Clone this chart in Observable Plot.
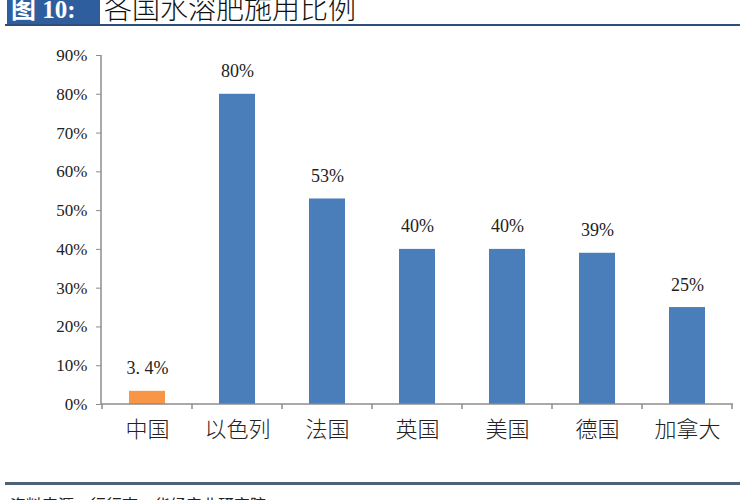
<!DOCTYPE html>
<html>
<head>
<meta charset="utf-8">
<script src="https://cdn.jsdelivr.net/npm/d3@7"></script>
<script src="https://cdn.jsdelivr.net/npm/@observablehq/plot@0.6"></script>
<style>
  html, body { margin: 0; padding: 0; background: #fff; }
  #wrap { position: relative; width: 750px; height: 500px; overflow: hidden; font-family: "Liberation Serif", "Noto Sans CJK SC", serif; }
  #tag { position: absolute; left: 7px; top: -5px; width: 93px; height: 30px; background: #2e5e9e; color: #fff; font-weight: bold; font-size: 25px; line-height: 30px; padding-left: 4px; box-sizing: border-box; font-family: "Liberation Serif", "Noto Sans CJK SC", serif; }
  #title { position: absolute; left: 104px; top: -8px; font-size: 28px; line-height: 30px; color: #111; font-family: "Noto Sans CJK SC", serif; font-weight: 300; }
  #topline { position: absolute; left: 5px; top: 24px; width: 735px; height: 2px; background: #2e4f7c; }
  #botline { position: absolute; left: 5px; top: 482px; width: 735px; height: 3px; background: #4e6176; }
  #source { position: absolute; left: 10px; top: 492px; font-size: 16px; color: #222; font-family: "Noto Sans CJK SC", sans-serif; }
  #chart { position: absolute; left: 0; top: 0; }
</style>
</head>
<body>
<div id="wrap">
  <div id="chart"></div>
  <div id="tag">图 10:</div>
  <div id="title">各国水溶肥施用比例</div>
  <div id="topline"></div>
  <div id="botline"></div>
  <div id="source">资料来源：行行查，华经产业研究院</div>
</div>
<script>
const countries = ["中国", "以色列", "法国", "英国", "美国", "德国", "加拿大"];
const shares = [0.034, 0.80, 0.53, 0.40, 0.40, 0.39, 0.25];
const valueLabels = ["3. 4%", "80%", "53%", "40%", "40%", "39%", "25%"];
const yTicks = [0, 0.1, 0.2, 0.3, 0.4, 0.5, 0.6, 0.7, 0.8, 0.9];

const data = countries.map((c, i) => ({country: c, share: shares[i], label: valueLabels[i]}));
const blue = "#4a7ebb";
const orange = "#f79646";
const axisGray = "#8c8c8c";

const plot = Plot.plot({
  width: 750,
  height: 500,
  marginLeft: 101,
  marginRight: 17,
  marginTop: 55,
  marginBottom: 96,
  style: {fontFamily: "'Liberation Serif', 'Noto Sans CJK SC', serif", background: "transparent", color: "#222"},
  x: {domain: countries, paddingInner: 0.6, paddingOuter: 0.3, label: null},
  y: {domain: [0, 0.9], label: null},
  marks: [
    Plot.barY(data, {x: "country", y: "share", fill: d => d.country === "中国" ? orange : blue}),
    Plot.text(data, {x: "country", y: "share", text: "label", dy: -17, lineAnchor: "bottom", fontSize: 18, fill: "#222"}),
    Plot.axisY({ticks: yTicks, tickFormat: d3.format(".0%"), tickSize: 5, tickPadding: 9, fontSize: 17, stroke: axisGray, fill: "#222", label: null}),
    Plot.axisX({tickSize: 0, tickPadding: 17, fontSize: 22, fill: "#222", fontFamily: "'Noto Sans CJK SC', serif", fontWeight: 300, label: null})
  ]
});

document.getElementById("chart").appendChild(plot);

// axis lines and band-boundary ticks, derived from the plot's scales
const xs = plot.scale("x");
const ys = plot.scale("y");
const svg = d3.select(plot);
const y0 = ys.apply(0);
const yTop = ys.apply(0.9);
const x0 = xs.range[0];
const x1 = xs.range[1];
const g = svg.append("g").attr("stroke", axisGray).attr("stroke-width", 1.5);
g.append("line").attr("x1", x0).attr("x2", x0).attr("y1", yTop).attr("y2", y0);
g.append("line").attr("x1", x0).attr("x2", x1).attr("y1", y0).attr("y2", y0);
const step = xs.step;
const boundaries = d3.range(countries.length + 1).map(i => xs.apply(countries[0]) - (step - xs.bandwidth) / 2 + i * step);
boundaries.forEach(bx => {
  g.append("line").attr("x1", bx).attr("x2", bx).attr("y1", y0).attr("y2", y0 + 5);
});
</script>
</body>
</html>
